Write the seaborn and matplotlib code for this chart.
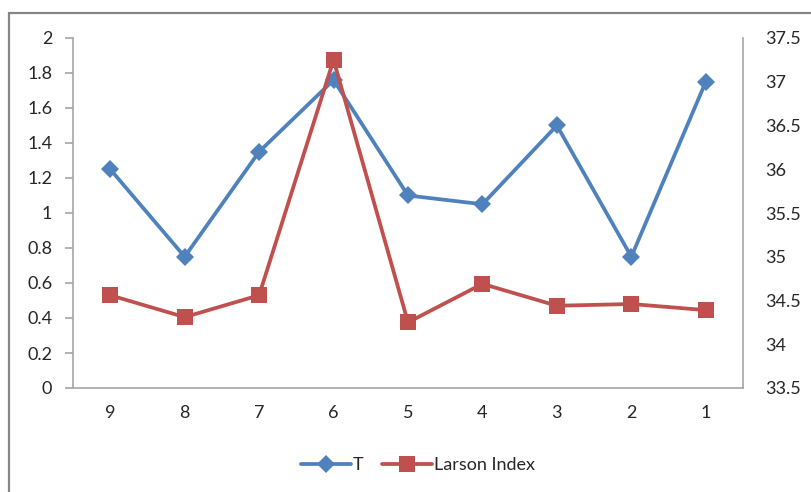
import matplotlib
matplotlib.use("Agg")
import matplotlib.pyplot as plt
from matplotlib.lines import Line2D
from matplotlib.ticker import FuncFormatter, MultipleLocator
import pandas as pd
import seaborn as sns

# Series data
categories = ["9", "8", "7", "6", "5", "4", "3", "2", "1"]
t_values = [1.25, 0.75, 1.35, 1.76, 1.10, 1.05, 1.50, 0.75, 1.75]
larson_index = [34.56, 34.31, 34.56, 37.25, 34.25, 34.69, 34.44, 34.46, 34.39]

BLUE = "#4F81BD"
RED = "#C0504D"
AXIS_GREY = "#A6A6A6"
TEXT = "#262626"
FS = 13

sns.set_style("white")
plt.rcParams["font.family"] = ["Lato", "DejaVu Sans"]
plt.rcParams["font.size"] = FS

df = pd.DataFrame({"cat": categories, "T": t_values, "Larson Index": larson_index})

fig = plt.figure(figsize=(8.12, 4.92), dpi=100)
ax = fig.add_axes([73 / 812, 1 - 388 / 492, (743 - 73) / 812, (388 - 38) / 492])
ax2 = ax.twinx()

sns.lineplot(data=df, x="cat", y="T", ax=ax, color=BLUE, linewidth=2.7,
             marker="D", markersize=9.5, markeredgewidth=0, sort=False)
sns.lineplot(data=df, x="cat", y="Larson Index", ax=ax2, color=RED, linewidth=2.7,
             marker="s", markersize=11.5, markeredgewidth=0, sort=False)

ax.set_xlim(-0.5, len(categories) - 0.5)
ax.set_ylim(0, 2)
ax2.set_ylim(33.5, 37.5)
ax.yaxis.set_major_locator(MultipleLocator(0.2))
ax2.yaxis.set_major_locator(MultipleLocator(0.5))
fmt = FuncFormatter(lambda v, p: f"{v:g}")
ax.yaxis.set_major_formatter(fmt)
ax2.yaxis.set_major_formatter(fmt)

for a in (ax, ax2):
    a.set_xlabel("")
    a.set_ylabel("")
    a.grid(False)
    a.spines["top"].set_visible(False)
    for s in ("left", "right", "bottom"):
        a.spines[s].set_color(AXIS_GREY)
        a.spines[s].set_linewidth(1.2)

ax.spines["right"].set_visible(False)
ax2.spines["left"].set_visible(False)
ax2.spines["bottom"].set_visible(False)

ax.tick_params(axis="y", which="major", direction="out", length=6, width=1.2,
               color=AXIS_GREY, labelcolor=TEXT, labelsize=FS, pad=9, left=True)
ax.tick_params(axis="x", length=0, labelcolor=TEXT, labelsize=FS, pad=12)
ax2.tick_params(axis="y", length=0, labelcolor=TEXT, labelsize=FS, pad=16, right=True)

if ax.get_legend():
    ax.get_legend().remove()
if ax2.get_legend():
    ax2.get_legend().remove()

handles = [
    Line2D([], [], color=BLUE, linewidth=2.7, marker="D", markersize=9.5, markeredgewidth=0),
    Line2D([], [], color=RED, linewidth=2.7, marker="s", markersize=11.5, markeredgewidth=0),
]
fig.legend(handles, ["T", "Larson Index"], loc="center", ncol=2, frameon=False,
           bbox_to_anchor=(418 / 812, 1 - 465 / 492), handlelength=2.8,
           handletextpad=0.1, columnspacing=1.0, fontsize=FS, labelcolor=TEXT)

# Outer chart frame (open to the right and bottom)
fx, fy = 9 / 812, 1 - 13 / 492
fig.add_artist(Line2D([fx, fx], [0, fy], transform=fig.transFigure, color="#868686", linewidth=1.6))
fig.add_artist(Line2D([fx, 1], [fy, fy], transform=fig.transFigure, color="#868686", linewidth=1.6))

fig.savefig("out.png", dpi=100)
